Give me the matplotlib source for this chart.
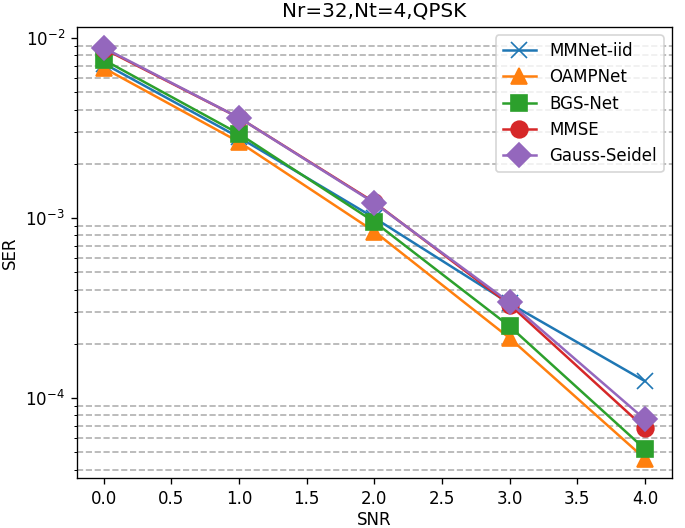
import matplotlib
matplotlib.use("Agg")
import matplotlib.pyplot as plt

snr = [0, 1, 2, 3, 4]
mmnet = [7.2e-3, 2.8e-3, 1.0e-3, 3.35e-4, 1.24e-4]
oamp = [6.8e-3, 2.64e-3, 8.4e-4, 2.15e-4, 4.6e-5]
bgs = [7.55e-3, 2.93e-3, 9.5e-4, 2.5e-4, 5.2e-5]
mmse = [8.7e-3, 3.6e-3, 1.22e-3, 3.3e-4, 6.8e-5]
gs = [8.8e-3, 3.6e-3, 1.21e-3, 3.39e-4, 7.6e-5]

dpi = 120
fig = plt.figure(figsize=(685 / dpi, 528 / dpi), dpi=dpi)
ax = fig.add_axes([0.112, 0.095, 0.869, 0.854])
ax.semilogy(snr, mmnet, marker='x', markersize=10, label='MMNet-iid')
ax.semilogy(snr, oamp, marker='^', markersize=10, label='OAMPNet')
ax.semilogy(snr, bgs, marker='s', markersize=10, label='BGS-Net')
ax.semilogy(snr, mmse, marker='o', markersize=10, label='MMSE')
ax.semilogy(snr, gs, marker='D', markersize=10, label='Gauss-Seidel')
ax.set_ylim(3.6e-5, 1.15e-2)
ax.grid(True, which='minor', axis='y', linestyle='--', color='#b0b0b0', linewidth=1)
ax.set_xlabel('SNR', labelpad=2)
ax.set_ylabel('SER')
ax.set_title('Nr=32,Nt=4,QPSK')
ax.legend(loc='upper right')
fig.savefig('out.png', dpi=dpi)
